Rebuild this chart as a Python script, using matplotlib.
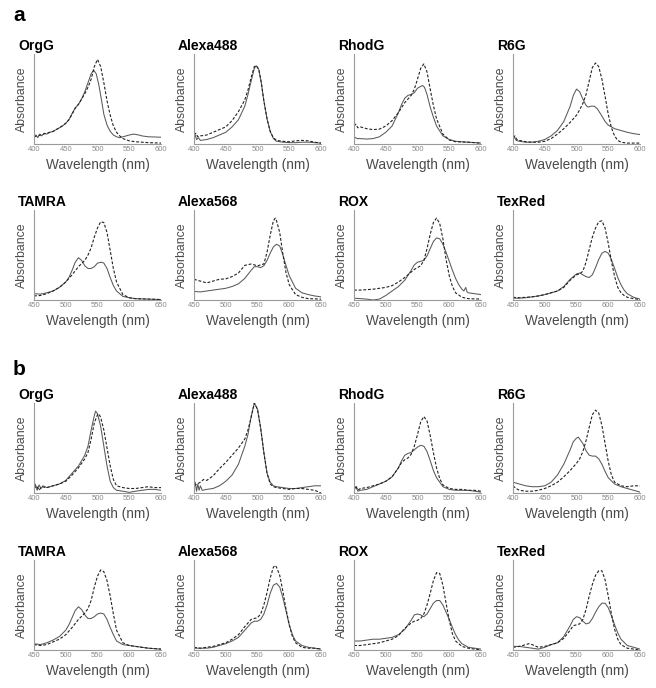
import matplotlib.pyplot as plt

plt.rcParams['font.family'] = ['Liberation Sans', 'DejaVu Sans']

dyes_top = ['OrgG', 'Alexa488', 'RhodG', 'R6G']
dyes_bottom = ['TAMRA', 'Alexa568', 'ROX', 'TexRed']
range_top = (400, 600)
range_bottom = (450, 650)
ticks_top = [400, 450, 500, 550, 600]
ticks_bottom = [450, 500, 550, 600, 650]

# (wavelength nm, absorbance normalised to axis height); solid = sample, dashed = reference
# ---- panel a ----
a_orgg_solid = [(400, .07), (403, .10), (406, .07), (409, .11), (412, .09), (416, .12), (420, .11), (425, .13),
                (430, .14), (435, .16), (440, .18), (445, .20), (450, .23), (455, .27), (460, .34), (465, .40),
                (470, .44), (475, .50), (480, .58), (485, .68), (490, .78), (494, .82), (498, .78), (502, .66),
                (506, .50), (510, .33), (515, .21), (520, .14), (525, .10), (530, .08), (535, .07), (540, .08),
                (545, .09), (550, .10), (557, .11), (565, .10), (570, .09), (580, .08), (590, .078), (600, .075)]
a_orgg_dashed = [(400, .08), (405, .09), (410, .10), (415, .11), (420, .12), (430, .14), (440, .18), (450, .23),
                 (455, .27), (460, .33), (465, .40), (470, .44), (475, .50), (480, .56), (485, .63), (490, .72),
                 (495, .86), (500, .94), (505, .86), (510, .68), (515, .48), (520, .32), (525, .20), (530, .13),
                 (535, .09), (540, .06), (550, .035), (560, .025), (580, .015), (600, .01)]

a_alexa488_solid = [(400, .06), (402, .10), (404, .05), (407, .07), (410, .04), (420, .05), (430, .07), (440, .10),
                    (450, .13), (460, .19), (470, .27), (480, .42), (485, .55), (490, .70), (495, .84), (498, .87),
                    (502, .83), (506, .68), (510, .48), (515, .28), (520, .14), (525, .06), (530, .03), (540, .02),
                    (550, .015), (560, .015), (570, .02), (580, .02), (590, .015), (600, .01)]
a_alexa488_dashed = [(400, .10), (403, .12), (406, .08), (410, .09), (420, .10), (430, .13), (440, .16), (450, .19),
                     (460, .26), (465, .31), (470, .36), (480, .49), (485, .60), (490, .74), (495, .86), (498, .87),
                     (502, .83), (506, .68), (510, .48), (515, .28), (520, .14), (525, .07), (530, .04), (540, .03),
                     (550, .025), (560, .035), (570, .04), (580, .035), (590, .02), (600, .01)]

a_rhodg_solid = [(400, .08), (405, .06), (410, .06), (420, .055), (430, .06), (440, .08), (450, .13), (460, .20),
                 (470, .35), (475, .44), (480, .51), (485, .54), (490, .55), (495, .57), (500, .62), (505, .64),
                 (508, .65), (511, .63), (515, .55), (520, .41), (525, .30), (530, .20), (540, .09), (550, .05),
                 (560, .03), (580, .02), (600, .01)]
a_rhodg_dashed = [(400, .20), (403, .22), (406, .18), (410, .19), (420, .17), (430, .16), (440, .165), (450, .20),
                  (460, .26), (470, .35), (480, .46), (490, .54), (495, .61), (500, .72), (505, .84), (510, .89),
                  (515, .80), (520, .61), (525, .43), (530, .28), (540, .11), (550, .045), (560, .025), (580, .02),
                  (600, .01)]

a_r6g_solid = [(400, .05), (402, .08), (405, .04), (410, .03), (420, .02), (430, .02), (440, .03), (450, .05),
               (460, .09), (470, .15), (480, .25), (490, .42), (495, .54), (500, .61), (505, .58), (510, .50),
               (515, .43), (518, .41), (523, .42), (528, .42), (533, .39), (540, .31), (545, .25), (550, .21),
               (555, .19), (560, .17), (570, .15), (580, .13), (590, .115), (600, .105)]
a_r6g_dashed = [(400, .07), (403, .09), (406, .05), (410, .04), (420, .025), (430, .02), (440, .02), (450, .03),
                (460, .06), (470, .11), (480, .17), (490, .24), (500, .32), (505, .38), (510, .45), (515, .55),
                (520, .70), (525, .85), (530, .90), (535, .86), (540, .72), (545, .53), (550, .33), (555, .18),
                (560, .09), (565, .04), (570, .02), (580, .01), (600, .01)]

a_tamra_solid = [(450, .07), (460, .065), (470, .08), (480, .10), (490, .14), (500, .20), (505, .25), (510, .33),
                 (515, .42), (520, .47), (525, .44), (530, .38), (535, .35), (540, .35), (545, .37), (550, .41),
                 (556, .42), (560, .41), (565, .35), (570, .25), (575, .16), (580, .10), (590, .04), (600, .025),
                 (610, .015), (620, .012), (630, .01), (650, .005)]
a_tamra_dashed = [(450, .045), (460, .05), (470, .07), (480, .10), (490, .14), (500, .20), (510, .28), (520, .37),
                  (530, .44), (535, .50), (540, .58), (545, .70), (550, .80), (555, .87), (560, .86), (565, .75),
                  (570, .55), (575, .35), (580, .20), (590, .06), (600, .025), (610, .015), (650, .005)]

a_alexa568_solid = [(450, .095), (460, .09), (470, .10), (480, .11), (490, .12), (500, .13), (510, .15), (520, .18),
                    (530, .24), (540, .33), (545, .37), (550, .37), (555, .36), (560, .38), (565, .44), (570, .52),
                    (575, .59), (580, .62), (585, .60), (590, .50), (595, .38), (600, .27), (610, .13), (620, .08),
                    (630, .06), (640, .045), (650, .035)]
a_alexa568_dashed = [(450, .23), (460, .21), (470, .19), (480, .21), (490, .23), (500, .235), (510, .26), (520, .30),
                     (530, .385), (540, .40), (550, .38), (560, .40), (565, .53), (570, .72), (575, .88), (578, .91),
                     (580, .88), (585, .75), (590, .51), (595, .30), (600, .17), (610, .06), (620, .03), (630, .015),
                     (650, .01)]

a_rox_solid = [(450, .02), (460, .015), (470, .01), (480, .0), (490, .01), (500, .05), (510, .10), (520, .15),
               (530, .22), (540, .33), (545, .39), (550, .42), (555, .43), (560, .44), (565, .49), (570, .57),
               (575, .65), (580, .69), (585, .68), (590, .62), (595, .53), (600, .43), (605, .33), (610, .24),
               (615, .17), (620, .12), (623, .10), (626, .14), (628, .09), (630, .08), (640, .07), (650, .06)]
a_rox_dashed = [(450, .11), (460, .11), (470, .115), (480, .12), (490, .13), (500, .14), (510, .16), (520, .20),
                (530, .25), (540, .31), (545, .34), (550, .36), (555, .38), (560, .44), (565, .57), (570, .73),
                (575, .86), (580, .91), (585, .85), (590, .68), (595, .45), (600, .27), (605, .15), (610, .08),
                (620, .03), (630, .015), (650, .01)]

a_texred_solid = [(450, .02), (460, .02), (470, .025), (480, .035), (490, .045), (500, .06), (510, .08), (520, .10),
                  (530, .15), (540, .23), (550, .29), (555, .30), (560, .28), (565, .26), (570, .25), (575, .28),
                  (580, .36), (585, .45), (590, .52), (595, .54), (600, .52), (605, .45), (610, .35), (615, .25),
                  (620, .17), (625, .11), (630, .07), (640, .03), (650, .01)]
a_texred_dashed = [(450, .03), (460, .025), (470, .03), (480, .035), (490, .045), (500, .06), (510, .08), (520, .10),
                   (530, .14), (540, .22), (550, .28), (555, .29), (560, .32), (565, .42), (570, .56), (575, .70),
                   (580, .80), (585, .87), (590, .88), (595, .80), (600, .63), (605, .43), (610, .26), (615, .14),
                   (620, .08), (625, .05), (630, .03), (640, .015), (650, .005)]

# ---- panel b ----
b_orgg_solid = [(400, .06), (402, .10), (405, .03), (408, .09), (411, .05), (414, .08), (420, .06), (430, .08),
                (440, .10), (450, .14), (460, .22), (470, .30), (475, .36), (480, .42), (485, .52), (490, .70),
                (495, .86), (497, .91), (500, .88), (505, .74), (510, .52), (515, .30), (520, .13), (525, .06),
                (530, .03), (540, .02), (550, .007), (560, .02), (570, .03), (580, .04), (590, .04), (600, .03)]
b_orgg_dashed = [(400, .05), (404, .08), (408, .03), (412, .07), (420, .06), (430, .08), (440, .10), (450, .13),
                 (460, .20), (470, .28), (480, .38), (485, .45), (490, .60), (495, .78), (500, .87), (502, .88),
                 (505, .84), (510, .70), (515, .50), (520, .30), (525, .15), (530, .08), (540, .06), (550, .05),
                 (560, .05), (570, .06), (580, .07), (590, .06), (600, .06)]

b_alexa488_solid = [(400, .06), (402, .12), (404, .02), (406, .10), (408, .03), (410, .08), (413, .03), (420, .04),
                    (430, .05), (440, .08), (450, .13), (460, .20), (470, .32), (480, .52), (485, .65), (490, .85),
                    (495, 1.0), (500, .93), (505, .72), (510, .45), (515, .22), (520, .12), (525, .08), (530, .07),
                    (540, .06), (550, .05), (560, .05), (570, .06), (580, .07), (590, .08), (600, .08)]
b_alexa488_dashed = [(400, .08), (405, .10), (410, .12), (415, .15), (420, .14), (430, .19), (440, .27), (450, .34),
                     (460, .42), (470, .50), (480, .60), (485, .70), (490, .84), (495, 1.0), (500, .93), (505, .72),
                     (510, .45), (515, .22), (520, .10), (525, .07), (530, .06), (540, .05), (550, .04), (560, .05),
                     (570, .05), (580, .04), (590, .03), (600, .0)]

b_rhodg_solid = [(400, .03), (403, .07), (406, .02), (410, .03), (420, .04), (430, .07), (440, .10), (450, .13),
                 (460, .18), (470, .28), (475, .36), (480, .42), (485, .44), (490, .45), (495, .48), (500, .51),
                 (505, .53), (510, .52), (515, .46), (520, .36), (525, .25), (530, .17), (540, .07), (550, .04),
                 (560, .03), (570, .03), (580, .03), (590, .02), (600, .01)]
b_rhodg_dashed = [(400, .04), (403, .08), (406, .03), (410, .05), (420, .06), (430, .08), (440, .10), (450, .13),
                  (460, .18), (470, .28), (475, .34), (480, .37), (485, .39), (490, .43), (495, .52), (500, .65),
                  (505, .79), (510, .85), (515, .80), (520, .64), (525, .45), (530, .28), (535, .16), (540, .09),
                  (550, .05), (560, .04), (570, .04), (580, .03), (590, .03), (600, .02)]

b_r6g_solid = [(400, .12), (410, .10), (420, .08), (430, .07), (440, .07), (450, .08), (460, .12), (470, .20),
               (480, .32), (490, .48), (495, .57), (500, .61), (503, .62), (510, .55), (515, .47), (520, .42),
               (525, .41), (530, .41), (535, .38), (540, .32), (545, .24), (550, .17), (560, .10), (570, .07),
               (580, .05), (590, .03), (600, .01)]
b_r6g_dashed = [(400, .08), (405, .05), (410, .03), (420, .02), (430, .02), (440, .03), (450, .05), (460, .08),
                (470, .12), (480, .18), (490, .25), (500, .33), (505, .38), (510, .46), (515, .58), (520, .73),
                (525, .87), (530, .92), (535, .89), (540, .75), (545, .55), (550, .35), (555, .20), (560, .12),
                (570, .08), (580, .07), (590, .08), (600, .08)]

b_tamra_solid = [(450, .07), (460, .06), (470, .08), (480, .11), (490, .15), (500, .22), (505, .28), (510, .36),
                 (515, .44), (520, .48), (525, .45), (530, .39), (535, .35), (540, .35), (545, .37), (550, .40),
                 (555, .41), (560, .40), (565, .34), (570, .25), (575, .17), (580, .10), (590, .06), (600, .05),
                 (610, .04), (620, .03), (630, .02), (640, .015), (650, .01)]
b_tamra_dashed = [(450, .06), (460, .05), (470, .06), (480, .09), (490, .12), (500, .17), (510, .25), (520, .34),
                  (530, .41), (535, .46), (540, .55), (545, .70), (550, .82), (555, .89), (560, .87), (565, .77),
                  (570, .60), (575, .40), (580, .22), (590, .08), (600, .05), (610, .04), (620, .03), (630, .02),
                  (640, .015), (650, .01)]

b_alexa568_solid = [(450, .02), (460, .02), (470, .02), (480, .03), (490, .05), (500, .07), (510, .10), (520, .14),
                    (530, .22), (540, .30), (545, .32), (550, .32), (555, .34), (560, .40), (565, .50), (570, .63),
                    (575, .72), (580, .74), (585, .70), (590, .58), (595, .43), (600, .28), (605, .17), (610, .10),
                    (620, .05), (630, .03), (640, .02), (650, .01)]
b_alexa568_dashed = [(450, .03), (460, .02), (470, .03), (480, .04), (490, .06), (500, .08), (510, .12), (520, .17),
                     (530, .26), (540, .34), (545, .35), (550, .36), (555, .40), (560, .50), (565, .64), (570, .80),
                     (575, .92), (578, .94), (580, .92), (585, .83), (590, .65), (595, .45), (600, .28), (605, .15),
                     (610, .08), (620, .03), (630, .02), (640, .02), (650, .01)]

b_rox_solid = [(450, .10), (460, .10), (470, .11), (480, .12), (490, .12), (500, .13), (510, .14), (520, .17),
               (530, .23), (540, .33), (545, .39), (550, .40), (555, .39), (560, .37), (565, .40), (570, .46),
               (575, .52), (580, .55), (585, .55), (590, .50), (595, .42), (600, .34), (605, .25), (610, .17),
               (615, .11), (620, .07), (630, .03), (640, .02), (650, .01)]
b_rox_dashed = [(450, .05), (460, .05), (470, .06), (480, .07), (490, .08), (500, .10), (510, .12), (520, .16),
                (530, .24), (540, .30), (545, .32), (550, .33), (555, .35), (560, .40), (565, .50), (570, .63),
                (575, .77), (580, .86), (585, .85), (590, .72), (595, .52), (600, .33), (605, .18), (610, .10),
                (620, .04), (630, .02), (640, .01), (650, .0)]

b_texred_solid = [(450, .04), (460, .04), (470, .03), (480, .02), (490, .01), (500, .03), (510, .06), (520, .08),
                  (530, .15), (540, .27), (545, .34), (550, .37), (555, .36), (560, .32), (565, .29), (570, .30),
                  (575, .35), (580, .42), (585, .48), (590, .52), (595, .52), (600, .47), (605, .38), (610, .28),
                  (615, .19), (620, .12), (630, .05), (640, .03), (650, .01)]
b_texred_dashed = [(450, .03), (460, .04), (470, .06), (475, .07), (480, .06), (490, .03), (500, .04), (510, .06),
                   (520, .08), (530, .13), (540, .22), (545, .27), (550, .28), (555, .29), (560, .34), (565, .45),
                   (570, .60), (575, .73), (580, .83), (585, .88), (590, .88), (595, .78), (600, .60), (605, .40),
                   (610, .23), (615, .12), (620, .06), (630, .02), (640, .01), (650, .0)]

panel_a = [
    [a_orgg_solid, a_alexa488_solid, a_rhodg_solid, a_r6g_solid],
    [a_tamra_solid, a_alexa568_solid, a_rox_solid, a_texred_solid],
]
panel_a_ref = [
    [a_orgg_dashed, a_alexa488_dashed, a_rhodg_dashed, a_r6g_dashed],
    [a_tamra_dashed, a_alexa568_dashed, a_rox_dashed, a_texred_dashed],
]
panel_b = [
    [b_orgg_solid, b_alexa488_solid, b_rhodg_solid, b_r6g_solid],
    [b_tamra_solid, b_alexa568_solid, b_rox_solid, b_texred_solid],
]
panel_b_ref = [
    [b_orgg_dashed, b_alexa488_dashed, b_rhodg_dashed, b_r6g_dashed],
    [b_tamra_dashed, b_alexa568_dashed, b_rox_dashed, b_texred_dashed],
]

W, H = 656, 688
fig = plt.figure(figsize=(W / 100, H / 100), dpi=100)

col_x = [34, 194, 354, 513]
row_bottom = [144, 300, 493, 650]
ax_w, ax_h = 127, 90

spine_col = '#9a9a9a'
tick_col = '#8a8a8a'
text_col = '#4a4a4a'


def draw_cell(ax, name, solid, dashed, xr, ticks):
    ax.plot(*zip(*solid), color='#5a5a5a', lw=0.75)
    ax.plot(*zip(*dashed), color='#222222', lw=0.8, ls=(0, (2.6, 1.6)))
    ax.set_xlim(*xr)
    ax.set_ylim(0, 1)
    ax.set_xticks(ticks)
    ax.set_yticks([])
    for s in ['top', 'right']:
        ax.spines[s].set_visible(False)
    for s in ['left', 'bottom']:
        ax.spines[s].set_color(spine_col)
        ax.spines[s].set_linewidth(0.8)
    ax.tick_params(axis='x', length=0, pad=1.5, labelsize=5.5, labelcolor=tick_col)
    ax.set_ylabel('Absorbance', fontsize=8.8, color=text_col, labelpad=4)
    ax.set_xlabel('Wavelength (nm)', fontsize=9.8, color=text_col, labelpad=3.5)
    ax.text(-16 / ax_w, 1 + 4 / ax_h, name, transform=ax.transAxes, fontsize=10,
            fontweight='bold', ha='left', va='baseline')


for p, (curves, refs) in enumerate([(panel_a, panel_a_ref), (panel_b, panel_b_ref)]):
    for r in range(2):
        names = dyes_top if r == 0 else dyes_bottom
        xr = range_top if r == 0 else range_bottom
        ticks = ticks_top if r == 0 else ticks_bottom
        yb = row_bottom[p * 2 + r]
        for c in range(4):
            ax = fig.add_axes([col_x[c] / W, 1 - yb / H, ax_w / W, ax_h / H])
            draw_cell(ax, names[c], curves[r][c], refs[r][c], xr, ticks)

fig.text(13 / W, 1 - 21 / H, 'a', fontsize=15, fontweight='bold', va='baseline')
fig.text(13 / W, 1 - 375 / H, 'b', fontsize=15, fontweight='bold', va='baseline')

fig.savefig('out.png', dpi=100)
